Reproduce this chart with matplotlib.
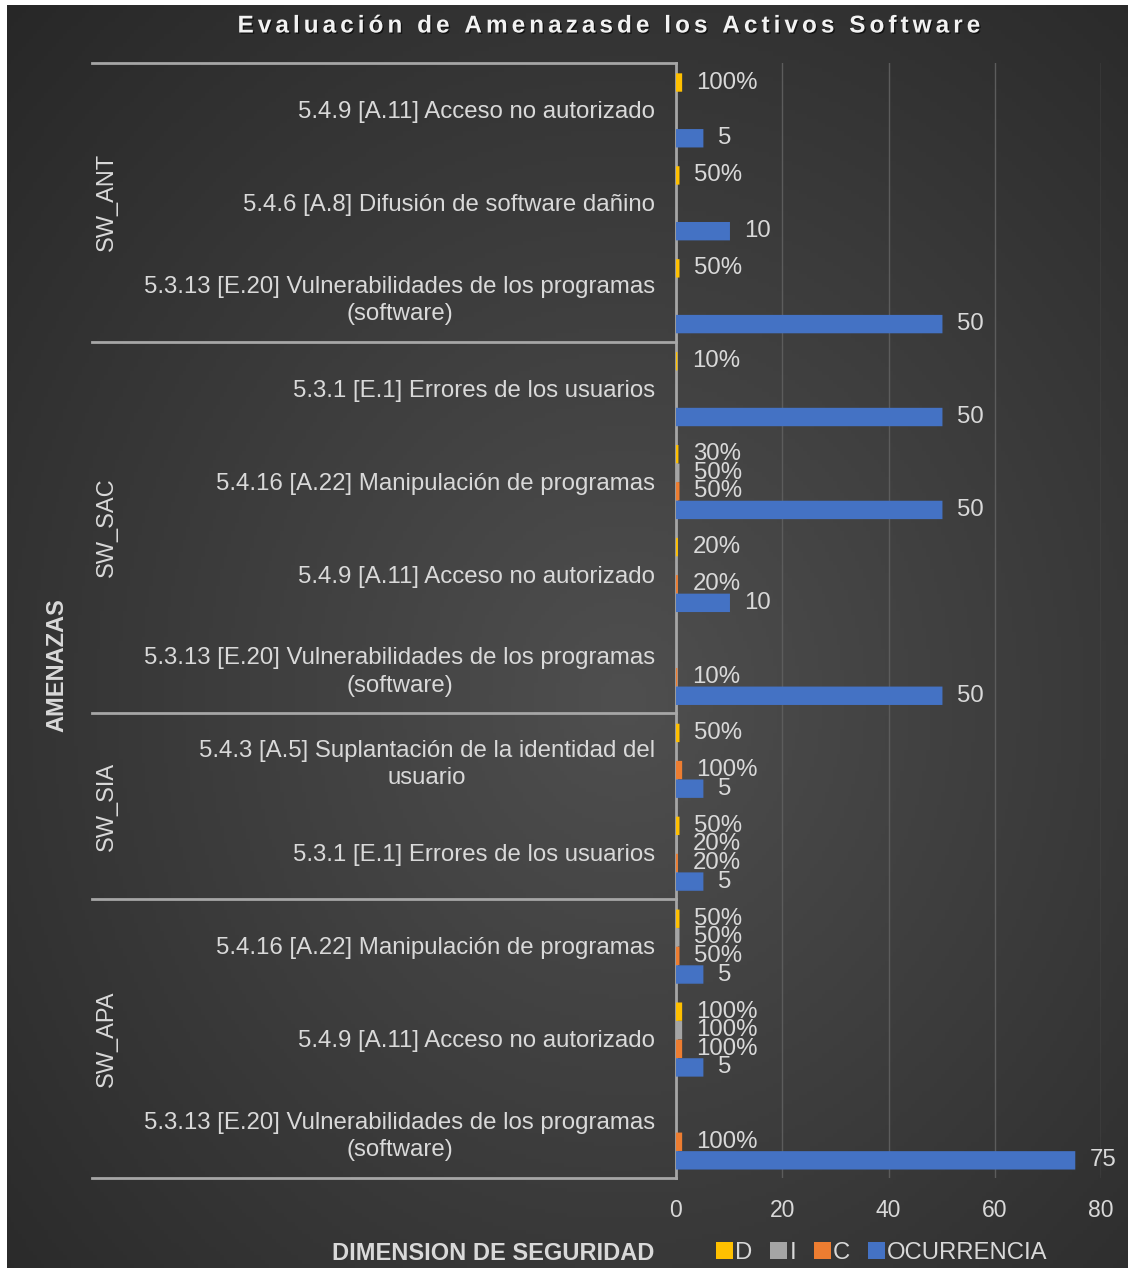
import numpy as np
import matplotlib
matplotlib.use('Agg')
import matplotlib.pyplot as plt
import matplotlib.patheffects as pe
from matplotlib.patches import Patch
from matplotlib.lines import Line2D
import matplotlib.transforms as mtransforms

plt.rcParams['font.family'] = ['Liberation Sans', 'DejaVu Sans']

# Data (top to bottom)
amenazas = [
    '5.4.9 [A.11] Acceso no autorizado',
    '5.4.6 [A.8] Difusión de software dañino',
    '5.3.13 [E.20] Vulnerabilidades de los programas\n(software)',
    '5.3.1 [E.1] Errores de los usuarios',
    '5.4.16 [A.22] Manipulación de programas',
    '5.4.9 [A.11] Acceso no autorizado',
    '5.3.13 [E.20] Vulnerabilidades de los programas\n(software)',
    '5.4.3 [A.5] Suplantación de la identidad del\nusuario',
    '5.3.1 [E.1] Errores de los usuarios',
    '5.4.16 [A.22] Manipulación de programas',
    '5.4.9 [A.11] Acceso no autorizado',
    '5.3.13 [E.20] Vulnerabilidades de los programas\n(software)',
]
grupos = ['SW_ANT', 'SW_SAC', 'SW_SIA', 'SW_APA']
grupo_n = [3, 4, 2, 3]

D = [1.0, 0.5, 0.5, 0.1, 0.3, 0.2, 0, 0.5, 0.5, 0.5, 1.0, 0]
I = [0, 0, 0, 0, 0.5, 0, 0, 0, 0.2, 0.5, 1.0, 0]
C = [0, 0, 0, 0, 0.5, 0.2, 0.1, 1.0, 0.2, 0.5, 1.0, 1.0]
ocurrencia = [5, 10, 50, 50, 50, 10, 50, 5, 5, 5, 5, 75]

series = [('D', D, '#ffc000'), ('I', I, '#a5a5a5'),
          ('C', C, '#ed7d31'), ('OCURRENCIA', ocurrencia, '#4472c4')]

W, H = 1128, 1273
fig = plt.figure(figsize=(W / 100, H / 100), dpi=100, facecolor='white')

# dark radial background
bg = fig.add_axes([7 / W, 5 / H, (W - 7) / W, (H - 10) / H])
yy, xx = np.mgrid[0:1:300j, 0:1:300j]
r = np.sqrt((xx - 0.55) ** 2 + ((yy - 0.45) * 1.0) ** 2)
shade = np.clip(0.31 - 0.20 * r, 0.15, 0.31)
bg.imshow(np.dstack([shade] * 3), aspect='auto', extent=[0, 1, 0, 1], origin='lower')
bg.axis('off')

ax = fig.add_axes([676 / W, 95 / H, 425 / W, (1210 - 95) / H])
ax.set_facecolor('none')
n = len(amenazas)
y = np.arange(n)
offs = [-0.29, -0.09, 0.11, 0.31]
txt = '#d9d9d9'
for (name, vals, col), off in zip(series, offs):
    bars = ax.barh(y + off, vals, height=0.18, color=col, edgecolor=col, linewidth=1.2, zorder=3)
    for b, v in zip(bars, vals):
        b.set_snap(False)
        if v == 0:
            b.set_visible(False)
    for yi, v in zip(y, vals):
        if v == 0:
            continue
        lab = f'{v:.0%}' if name != 'OCURRENCIA' else f'{v:g}'
        ax.annotate(lab, (v, yi + off), xytext=(11, 0), textcoords='offset points',
                    ha='left', va='center', fontsize=17.3, color=txt, zorder=4)

ax.set_xlim(0, 80)
ax.set_ylim(n - 0.5, -0.5)
ax.set_xticks([0, 20, 40, 60, 80])
ax.set_yticks(y)
ax.set_yticklabels(amenazas, fontsize=17.3, color=txt)
for lbl in ax.get_yticklabels():
    lbl.set_multialignment('center')
    lbl.set_linespacing(1.3)
ax.tick_params(axis='y', length=0, pad=15)
ax.tick_params(axis='x', length=0, pad=15, labelsize=16.5, labelcolor=txt)
ax.grid(axis='x', color='#5c5c5c', lw=1, zorder=0)
for s in ['top', 'right', 'bottom']:
    ax.spines[s].set_visible(False)
ax.spines['left'].set_color('#a6a6a6')
ax.spines['left'].set_linewidth(2)
ax.spines['left'].set_zorder(2)

# group axis lines and labels
trans = mtransforms.blended_transform_factory(ax.transAxes, ax.transData)
x0 = (92 - 676) / 425
bounds = np.concatenate([[0], np.cumsum(grupo_n)]) - 0.5
for b in bounds:
    ax.add_line(Line2D([x0, 0], [b, b], transform=trans, color='#a6a6a6', lw=2, clip_on=False))
for g, a, b in zip(grupos, bounds[:-1], bounds[1:]):
    ax.text((107 - 676) / 425, (a + b) / 2, g, transform=trans, rotation=90,
            ha='center', va='center', fontsize=17, color=txt)

# titles
title = 'Evaluación de Amenazasde los Activos Software'
fig.text(608 / W, 1 - 26 / H, '\u2006'.join(title), ha='center', va='center',
         fontsize=17.5, fontweight='bold', color='#f2f2f2',
         path_effects=[pe.withSimplePatchShadow(offset=(1, -1), shadow_rgbFace='black', alpha=0.6)])
fig.text(57 / W, 1 - 665 / H, 'AMENAZAS', rotation=90, ha='center', va='center',
         fontsize=17, fontweight='bold', color=txt)
fig.text(654 / W, 1 - 1253 / H, 'DIMENSION DE SEGURIDAD', ha='right', va='center',
         fontsize=17, fontweight='bold', color=txt)

handles = [Patch(facecolor=c, label=nm) for nm, _, c in series]
fig.legend(handles=handles, loc='center left', bbox_to_anchor=(716 / W, 20 / H),
           ncol=4, frameon=False, fontsize=17.2, labelcolor=txt,
           handlelength=0.7, handleheight=0.7, handletextpad=0.1,
           columnspacing=0.75, borderpad=0, borderaxespad=0)

fig.savefig('out.png', dpi=100, facecolor='white')
